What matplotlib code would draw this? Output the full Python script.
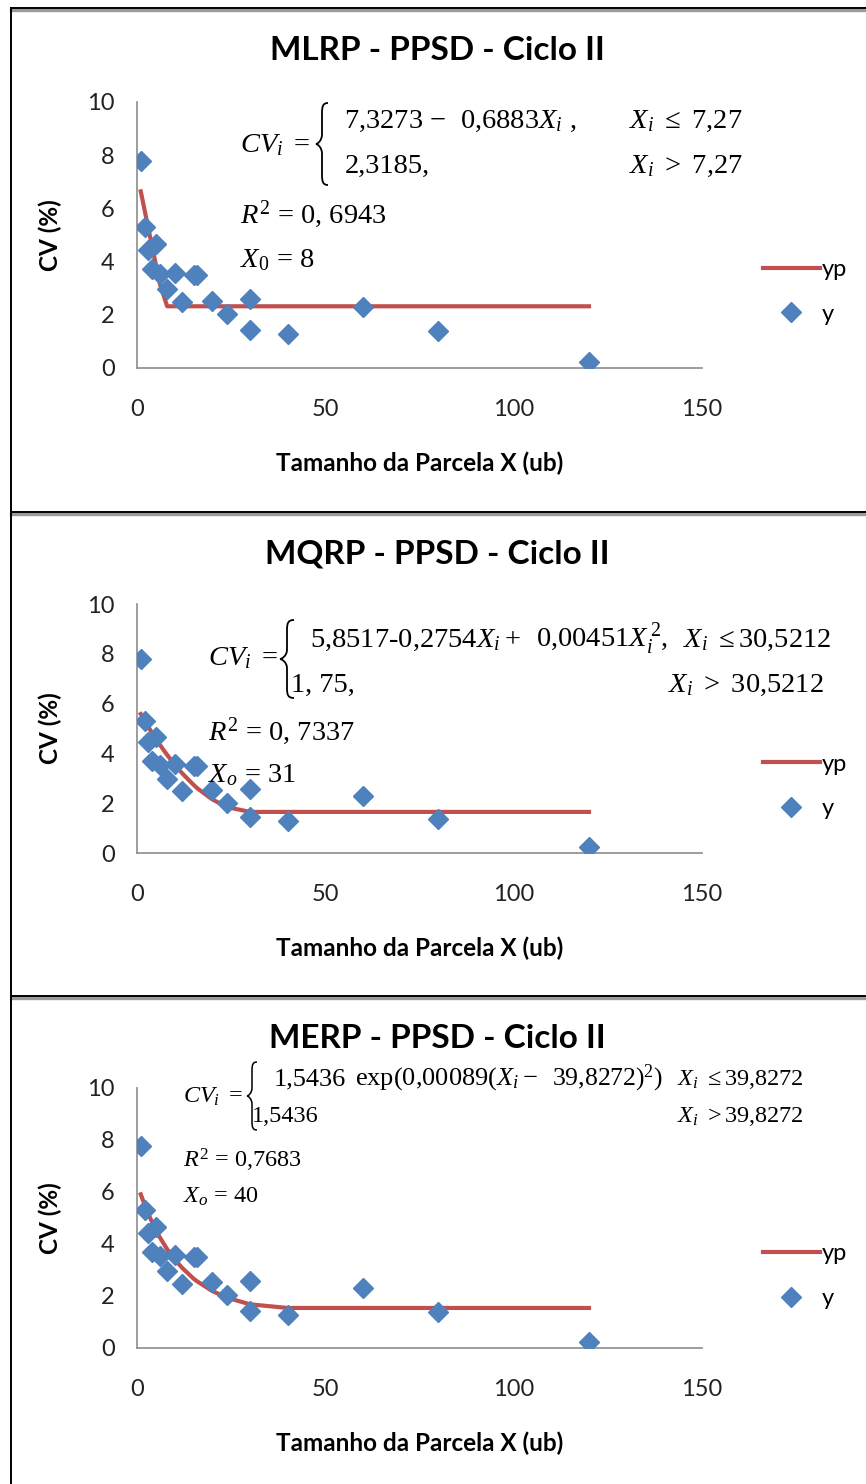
import matplotlib
matplotlib.use('Agg')
import matplotlib.pyplot as plt
from matplotlib.lines import Line2D
from matplotlib.patches import PathPatch
from matplotlib.path import Path
from matplotlib.transforms import Affine2D

plt.rcParams['mathtext.fontset'] = 'custom'
plt.rcParams['mathtext.rm'] = 'Liberation Serif'
plt.rcParams['mathtext.it'] = 'Liberation Serif:italic'
plt.rcParams['mathtext.bf'] = 'Liberation Serif:bold'

# Dados: tamanho da parcela (ub) e CV observado
x_parcela = [1, 2, 3, 4, 5, 6, 8, 10, 12, 15, 16, 20, 24, 30, 30, 40, 60, 80, 120]
cv_obs = [7.78, 5.31, 4.44, 3.71, 4.65, 3.52, 2.96, 3.56, 2.48, 3.50, 3.50,
          2.52, 2.02, 2.58, 1.43, 1.27, 2.30, 1.38, 0.23]

# Valores ajustados (yp)
yp_mlrp = [6.64, 5.95, 5.26, 4.57, 3.89, 3.20, 2.32, 2.32, 2.32, 2.32, 2.32,
           2.32, 2.32, 2.32, 2.32, 2.32, 2.32, 2.32, 2.32]
yp_mqrp = [5.58, 5.32, 5.07, 4.82, 4.59, 4.36, 3.94, 3.55, 3.20, 2.74, 2.60,
           2.15, 1.84, 1.65, 1.65, 1.65, 1.65, 1.65, 1.65]
yp_merp = [5.91, 5.52, 5.16, 4.84, 4.54, 4.27, 3.80, 3.41, 3.08, 2.67, 2.56,
           2.19, 1.93, 1.68, 1.68, 1.54, 1.54, 1.54, 1.54]

titulos = ['MLRP - PPSD - Ciclo II', 'MQRP - PPSD - Ciclo II', 'MERP - PPSD - Ciclo II']
x_ticks = [0, 50, 100, 150]
y_ticks = [0, 2, 4, 6, 8, 10]

W, H = 866, 1484
AZUL = '#4F81BD'
VERMELHO = '#C0504D'
SANS = 'Lato'
SERIF = 'Liberation Serif'

fig = plt.figure(figsize=(W / 100, H / 100), dpi=100)


def fx(px):
    return px / W


def fy(py):
    return 1 - py / H


def chave(x0, x1, y0, y1, lw=1.3):
    # chave "{" da equacao, desenhada em pixels (y para baixo)
    xm = (x0 + x1) / 2
    ym = (y0 + y1) / 2
    r = (y1 - y0) * 0.12
    pts = [(x1, y0), (xm + (x1 - xm) * 0.2, y0), (xm, y0 + r * 0.3), (xm, y0 + r),
           (xm, ym - r), (xm, ym - r * 0.3), (x0 + (xm - x0) * 0.2, ym), (x0, ym),
           (x0 + (xm - x0) * 0.2, ym), (xm, ym + r * 0.3), (xm, ym + r),
           (xm, y1 - r), (xm, y1 - r * 0.3), (xm + (x1 - xm) * 0.2, y1), (x1, y1)]
    codes = [Path.MOVETO, Path.CURVE4, Path.CURVE4, Path.CURVE4,
             Path.LINETO, Path.CURVE4, Path.CURVE4, Path.CURVE4,
             Path.CURVE4, Path.CURVE4, Path.CURVE4,
             Path.LINETO, Path.CURVE4, Path.CURVE4, Path.CURVE4]
    pts = [(px, H - py) for px, py in pts]
    tr = Affine2D().scale(1 / W, 1 / H) + fig.transFigure
    fig.add_artist(PathPatch(Path(pts, codes), transform=tr, facecolor='none',
                             edgecolor='black', lw=lw))


def eq(px, py, s, size):
    fig.text(fx(px), fy(py), s, fontsize=size, family=SERIF, va='baseline', ha='left')


# paineis: (topo eixo y=10, base eixo y=0, topo do painel)
paineis = [(102, 368, 8), (604, 853, 512), (1088, 1348, 996)]
series = [yp_mlrp, yp_mqrp, yp_merp]

for i, ((y10, y0, ytop), yp) in enumerate(zip(paineis, series)):
    ax = fig.add_axes([fx(137), fy(y0), (702 - 137) / W, (y0 - y10) / H])
    ax.plot(x_parcela, yp, color=VERMELHO, lw=3, label='yp', zorder=2)
    ax.plot(x_parcela, cv_obs, 'D', color=AZUL, ms=10.5, lw=0, label='y', zorder=3)
    ax.set_xlim(0, 150)
    ax.set_ylim(0, 10)
    ax.set_xticks(x_ticks)
    ax.set_yticks(y_ticks)
    ax.tick_params(length=0, labelsize=17)
    ax.tick_params(axis='y', pad=16)
    ax.tick_params(axis='x', pad=22)
    for lbl in ax.get_xticklabels() + ax.get_yticklabels():
        lbl.set_family(SANS)
        lbl.set_color('#222222')
    for s in ['top', 'right']:
        ax.spines[s].set_visible(False)
    for s in ['left', 'bottom']:
        ax.spines[s].set_color('#8C8C8C')
        ax.spines[s].set_linewidth(1.2)
    ax.patch.set_alpha(0)

    leg_y = [0.286, 0.267, 0.277][i]
    ax.legend(loc='center left', bbox_to_anchor=((763 - 137) / 565, leg_y),
              frameon=False, handlelength=2.4, handletextpad=0.1,
              labelspacing=1.0, borderpad=0, borderaxespad=0,
              prop={'family': SANS, 'size': 17})

    # titulo e rotulos
    fig.text(fx(437), fy(ytop + 42), titulos[i], fontsize=24, fontweight='bold',
             family=SANS, ha='center', va='center')
    fig.text(fx(420), fy(y0 + 95), 'Tamanho da Parcela X (ub)', fontsize=17.5,
             fontweight='bold', family=SANS, ha='center', va='center')
    fig.text(fx(50), fy((y0 + y10) / 2), 'CV (%)', fontsize=17.5, fontweight='bold',
             family=SANS, ha='center', va='center', rotation=90)

FS = 20.5
# equacoes - painel 1
eq(240, 152, r'$CV_i\ =$', FS)
chave(316, 328, 103, 185)
eq(344, 128, r'7,3273 $-$', FS)
eq(460, 128, r'0,6883$X_i$ ,', FS)
eq(629, 128, r'$X_i\ \leq$ 7,27', FS)
eq(345, 173, '2,3185,', FS)
eq(629, 173, r'$X_i\ >$ 7,27', FS)
eq(240, 223, r'$R^2$ = 0, 6943', FS)
eq(240, 267, r'$X_0$ = 8', FS)

# painel 2
eq(208, 665, r'$CV_i\ =$', FS)
chave(280, 294, 620, 698)
eq(310, 647, r'5,8517-0,2754$X_i$', FS)
eq(505, 647, '+', FS)
eq(536, 647, r'0,00451$X_i^{\,2}$,', FS)
eq(683, 647, r'$X_i\ \leq$30,5212', FS)
eq(291, 692, '1, 75,', FS)
eq(668, 692, r'$X_i\ >$ 30,5212', FS)
eq(208, 740, r'$R^2$ = 0, 7337', FS)
eq(208, 782, r'$X_o$ = 31', FS)

# painel 3
FS3 = 17.5
eq(183, 1103, r'$CV_i\ =$', FS3)
chave(247, 257, 1062, 1130, lw=1.1)
eq(274, 1085, '1,5436', 19)
eq(355, 1085, r'exp(0,00089($X_i-$', 19)
eq(552, 1085, r'39,8272)$^2$)', 18.5)
eq(677, 1085, r'$X_i\ \leq$39,8272', FS3)
eq(252, 1122, '1,5436', FS3)
eq(677, 1122, r'$X_i\ >$39,8272', FS3)
eq(183, 1167, r'$R^2$ = 0,7683', FS3)
eq(183, 1203, r'$X_o$ = 40', FS3)

# molduras dos paineis
for yl in [8, 512, 996]:
    fig.add_artist(Line2D([fx(11), 1], [fy(yl + 2), fy(yl + 2)], color='#9A9A9A',
                          lw=2.4, transform=fig.transFigure))
    fig.add_artist(Line2D([fx(11), 1], [fy(yl), fy(yl)], color='black',
                          lw=1.4, transform=fig.transFigure))
fig.add_artist(Line2D([fx(11), fx(11)], [fy(8), 0], color='black', lw=1.4,
                      transform=fig.transFigure))

fig.savefig('out.png', dpi=100)
